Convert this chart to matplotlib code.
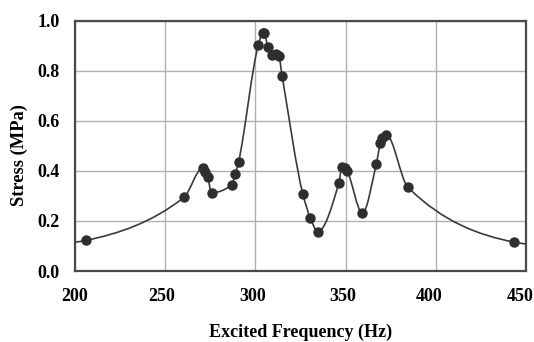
import matplotlib
matplotlib.use("Agg")
import matplotlib.pyplot as plt
import matplotlib.transforms as mtransforms
from matplotlib.path import Path
from matplotlib.patches import PathPatch
import numpy as np

# measured points (Hz, MPa)
freq = [206.0, 260.4, 270.7, 272.2, 273.5, 275.7, 286.8, 288.9, 290.7,
        301.7, 304.1, 305.0, 306.9, 309.3, 311.5, 313.0, 314.8,
        326.3, 330.4, 334.6, 346.2, 348.1, 349.4, 350.7, 359.3,
        367.0, 369.3, 370.4, 372.6, 384.5, 443.5]
stress = [0.122, 0.294, 0.410, 0.396, 0.377, 0.313, 0.344, 0.388, 0.437,
          0.904, 0.951, 0.950, 0.895, 0.864, 0.866, 0.858, 0.780,
          0.308, 0.213, 0.157, 0.350, 0.417, 0.410, 0.400, 0.231,
          0.427, 0.510, 0.530, 0.544, 0.335, 0.115]

# where the smoothed line meets the plot edges
edge_freq = [200.0, 450.0]
edge_stress = [0.115, 0.108]

x_ticks = [200, 250, 300, 350, 400, 450]
y_ticks = [0.0, 0.2, 0.4, 0.6, 0.8, 1.0]


def pchip_slopes(x, y):
    h = np.diff(x)
    d = np.diff(y) / h
    m = np.zeros(len(x))
    for k in range(1, len(x) - 1):
        if d[k - 1] * d[k] <= 0:
            m[k] = 0.0
        else:
            w1 = 2 * h[k] + h[k - 1]
            w2 = h[k] + 2 * h[k - 1]
            m[k] = (w1 + w2) / (w1 / d[k - 1] + w2 / d[k])
    m[0] = d[0]
    m[-1] = d[-1]
    return m


def smooth_path(xs, ys):
    # shape-preserving cubic through the points, drawn as bezier segments
    x = np.asarray(xs)
    y = np.asarray(ys)
    m = pchip_slopes(x, y)
    verts = [(x[0], y[0])]
    codes = [Path.MOVETO]
    for i in range(len(x) - 1):
        h = x[i + 1] - x[i]
        verts += [(x[i] + h / 3, y[i] + m[i] * h / 3),
                  (x[i + 1] - h / 3, y[i + 1] - m[i + 1] * h / 3),
                  (x[i + 1], y[i + 1])]
        codes += [Path.CURVE4] * 3
    return Path(verts, codes)


plt.rcParams['font.family'] = ['Liberation Serif', 'DejaVu Serif']

fig = plt.figure(figsize=(5.34, 3.42), dpi=100)
ax = fig.add_axes([0.1404, 0.2076, 0.8446, 0.732])

line_x = [edge_freq[0]] + freq + [edge_freq[1]]
line_y = [edge_stress[0]] + stress + [edge_stress[1]]
ax.add_patch(PathPatch(smooth_path(line_x, line_y), fill=False,
                       edgecolor='#3a3a3a', lw=1.2, zorder=3))
ax.plot(freq, stress, 'o', color='#2e2e2e', ms=6.5, zorder=4)

ax.set_xlim(200, 450)
ax.set_ylim(0, 1.0)
ax.set_xticks(x_ticks)
ax.set_yticks(y_ticks)
ax.set_xticklabels([str(t) for t in x_ticks], fontsize=13, fontweight='bold')
ax.set_yticklabels(['%.1f' % t for t in y_ticks], fontsize=13, fontweight='bold')
ax.tick_params(length=0)
ax.tick_params(axis='x', pad=12)
ax.tick_params(axis='y', pad=11)
ax.grid(True, color='#b0b0b0', lw=1.0)
ax.set_axisbelow(True)
for s in ax.spines.values():
    s.set_color('#4a4a4a')
    s.set_linewidth(1.6)

# nudge x labels left a bit, as in the source
shifts = [0, -3, -3, -3, -7, -6]
for lab, dx in zip(ax.get_xticklabels(), shifts):
    lab.set_transform(lab.get_transform() +
                      mtransforms.ScaledTranslation(dx / 100, 0, fig.dpi_scale_trans))

fig.text(0.036, 0.548, 'Stress (MPa)', rotation=90, ha='center', va='center',
         fontsize=13.3, fontweight='bold')
fig.text(0.562, 0.0146, 'Excited Frequency (Hz)', ha='center', va='baseline',
         fontsize=13, fontweight='bold')

fig.savefig('out.png', dpi=100)
